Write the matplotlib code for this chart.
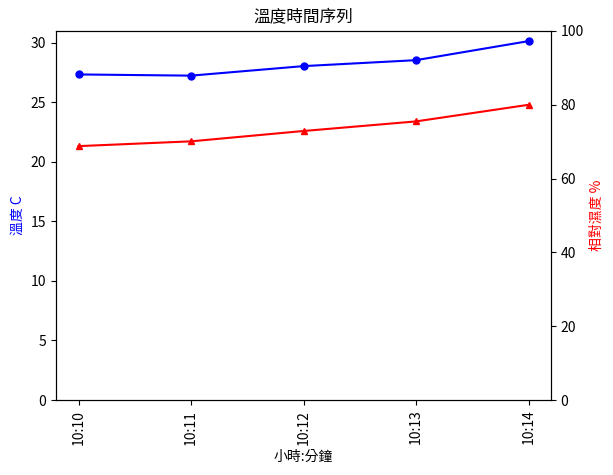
import matplotlib
matplotlib.use('Agg')
import matplotlib.pyplot as plt

plt.rcParams['font.family'] = ['Noto Sans CJK TC', 'DejaVu Sans']
plt.rcParams['axes.unicode_minus'] = False

times = ['10:10', '10:11', '10:12', '10:13', '10:14']
temperature = [27.35, 27.25, 28.05, 28.55, 30.15]
humidity = [68.8, 70.1, 72.9, 75.5, 80.0]


def main():
    fig = plt.figure(figsize=(6.13, 4.75), dpi=100)
    ax1 = fig.add_axes([56/613, 1-400/475, (551-56)/613, (400-31)/475])
    ax1.plot(times, temperature, color='blue', marker='o', markersize=5)
    ax1.set_ylim(0, 31)
    ax1.set_ylabel('溫度 C', color='blue')
    ax1.set_xlabel('小時:分鐘')
    ax1.set_title('溫度時間序列')
    plt.setp(ax1.get_xticklabels(), rotation=90)

    ax2 = ax1.twinx()
    ax2.plot(times, humidity, color='red', marker='^', markersize=5)
    ax2.set_ylim(0, 100)
    ax2.set_ylabel('相對濕度 %', color='red')

    fig.savefig('out.png', dpi=100)


if __name__ == '__main__':
    main()
